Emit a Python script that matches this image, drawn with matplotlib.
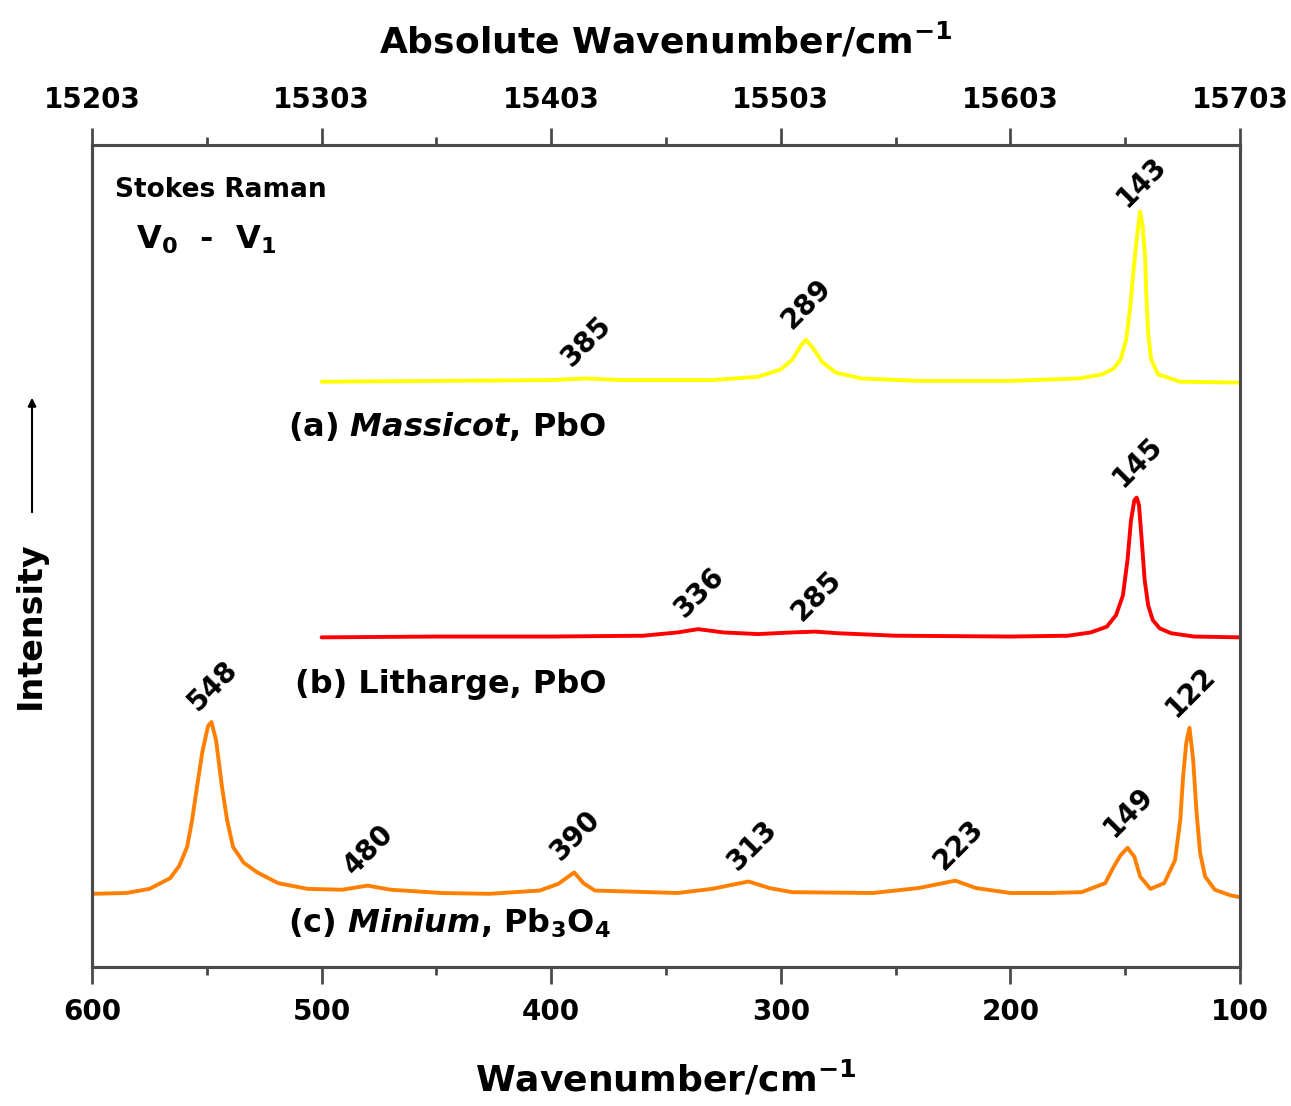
import numpy as np
import matplotlib
matplotlib.use("Agg")
import matplotlib.pyplot as plt
from matplotlib.patches import FancyArrowPatch
from matplotlib.ticker import MultipleLocator

plt.rcParams['font.family'] = ['DejaVu Sans']
plt.rcParams['font.weight'] = 'bold'
plt.rcParams['axes.labelweight'] = 'bold'
plt.rcParams['mathtext.default'] = 'regular'

# --- spectra (Raman shift / cm-1, intensity in % of axis height) ---
massicot_shift = [500, 450, 400, 385, 370, 330, 310, 300, 295, 291, 289, 286, 282, 276, 265, 240,
                  200, 170, 160, 155, 152, 149.6, 147.8, 146.5, 145, 143.5, 142.5, 141.3, 140.9,
                  140, 138.7, 135.7, 126, 100]
massicot_int = [0, 0.1, 0.2, 0.4, 0.2, 0.2, 0.6, 1.5, 2.7, 4.5, 5.1, 4.1, 2.4, 1.1, 0.4, 0.1,
                0.1, 0.4, 0.9, 1.6, 2.7, 5.1, 9.1, 13.3, 17.3, 20.7, 19.1, 15.2, 11.2,
                5.9, 2.7, 0.9, 0, -0.1]

litharge_shift = [500, 450, 400, 360, 345, 336, 325, 310, 295, 285, 275, 250, 200, 175, 165, 158,
                  154, 151, 149, 147.5, 146, 145, 144, 142.8, 141.5, 140, 138, 135, 130, 120, 100]
litharge_int = [0, 0.1, 0.1, 0.2, 0.6, 1.0, 0.6, 0.4, 0.6, 0.7, 0.5, 0.2, 0.1, 0.2, 0.6, 1.3,
                2.7, 5.1, 9.4, 14.2, 16.7, 17.0, 16.1, 11.8, 6.9, 3.9, 2.1, 1.1, 0.5, 0.1, 0]

minium_shift = [600, 585, 575, 566, 562, 558.6, 556.4, 554.3, 552, 549.5, 548, 546, 543.4, 541.2,
                538.6, 534, 528, 519, 506, 491, 480, 470, 448, 427, 405, 397, 390, 386, 381,
                345, 330, 314, 305, 295, 260, 240, 224, 215, 200, 183, 169, 158.7, 155, 152,
                149, 146, 143.5, 139, 133, 128.3, 126, 124.8, 123.4, 122, 120.4, 119, 117.4,
                115.2, 111, 104, 100]
minium_int = [0, 0.1, 0.6, 1.9, 3.4, 5.7, 9.0, 13.0, 17.2, 20.4, 20.9, 18.7, 13.0, 9.0,
              5.7, 3.8, 2.6, 1.3, 0.6, 0.5, 1.0, 0.5, 0.1, 0, 0.4, 1.2, 2.6, 1.3, 0.4,
              0.1, 0.6, 1.5, 0.7, 0.2, 0.1, 0.7, 1.6, 0.7, 0.1, 0.1, 0.2, 1.3, 3.3, 4.7,
              5.6, 4.5, 2.1, 0.6, 1.3, 4.1, 9.0, 14.2, 18.4, 20.2, 16.3, 10.2, 5.0,
              2.1, 0.5, -0.2, -0.4]

massicot_peaks = [385, 289, 143]
litharge_peaks = [336, 285, 145]
minium_peaks = [548, 480, 390, 313, 223, 149, 122]

offsets = {'a': 71.2, 'b': 40.1, 'c': 8.9}

fig = plt.figure(figsize=(12.91, 11.06), dpi=100)
ax = fig.add_axes([0.0713, 0.1257, 0.8892, 0.7432])

spectra = [
    (massicot_shift, massicot_int, massicot_peaks, offsets['a'], '#FFFF00'),
    (litharge_shift, litharge_int, litharge_peaks, offsets['b'], '#FF0000'),
    (minium_shift, minium_int, minium_peaks, offsets['c'], '#FF8000'),
]

for xs, ys, peaks, off, col in spectra:
    xs = np.array(xs, dtype=float)
    ys = np.array(ys, dtype=float) + off
    ax.plot(xs, ys, color=col, lw=2.8, solid_joinstyle='round', solid_capstyle='round')
    for p in peaks:
        # label sits just above the curve at the peak position
        yp = np.interp(p, xs[::-1], ys[::-1])
        ax.annotate(str(p), (p, yp), xytext=(-14, 10), textcoords='offset pixels',
                    rotation=45, rotation_mode='anchor', ha='left', va='baseline',
                    fontsize=20)

ax.set_xlim(600, 100)
ax.set_ylim(0, 100)
ax.set_yticks([])
ax.xaxis.set_major_locator(MultipleLocator(100))
ax.xaxis.set_minor_locator(MultipleLocator(50))
ax.tick_params(axis='x', which='major', direction='out', length=12, width=2,
               labelsize=20, pad=10, color='#4a4a4a')
ax.tick_params(axis='x', which='minor', direction='out', length=6, width=2, color='#4a4a4a')
ax.set_xlabel('Wavenumber/cm$^{-1}$', fontsize=26, labelpad=24)

ax2 = ax.twiny()
ax2.set_xlim(15203, 15703)
ax2.set_xticks([15203, 15303, 15403, 15503, 15603, 15703])
ax2.set_xticks([15253, 15353, 15453, 15553, 15653], minor=True)
ax2.tick_params(axis='x', which='major', direction='out', length=12, width=2,
                labelsize=20, pad=10, color='#4a4a4a')
ax2.tick_params(axis='x', which='minor', direction='out', length=6, width=2, color='#4a4a4a')
ax2.set_xlabel('Absolute Wavenumber/cm$^{-1}$', fontsize=26, labelpad=24)

for a in (ax, ax2):
    for s in a.spines.values():
        s.set_color('#4a4a4a')
        s.set_linewidth(2.2)

# annotations
ax.text(590, 94.5, 'Stokes Raman', fontsize=19, ha='left', va='center')
ax.text(581, 88.5, r'V$_0$  -  V$_1$', fontsize=23, ha='left', va='center')
ax.text(514.6, 65.7, r'(a) $\it{Massicot}$, PbO', fontsize=23, ha='left', va='center')
ax.text(511.6, 34.4, '(b) Litharge, PbO', fontsize=23, ha='left', va='center')
ax.text(514.6, 5.3, r'(c) $\it{Minium}$, Pb$_3$O$_4$', fontsize=23, ha='left', va='center')

fig.text(0.0232, 0.4349, 'Intensity', rotation=90, fontsize=24, ha='center', va='center')
fig.add_artist(FancyArrowPatch(
    (0.0248, 0.5344), (0.0248, 0.6429), transform=fig.transFigure,
    arrowstyle='-|>', mutation_scale=12, lw=1.5, color='black'))

fig.savefig('out.png', dpi=100)
